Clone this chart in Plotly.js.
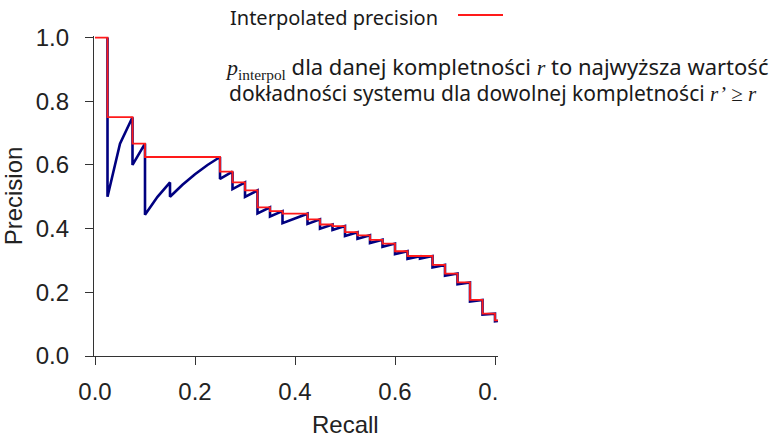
<!DOCTYPE html>
<html>
<head>
<meta charset="utf-8">
<script src="https://cdn.plot.ly/plotly-3.0.1.min.js"></script>
<style>html,body{margin:0;padding:0;background:#fff;}#chart{width:770px;height:440px;}</style>
</head>
<body>
<div id="chart"></div>
<script>
// Precision-recall curve (blue): vertices
const recall = [0.025,0.025,0.05,0.075,0.075,0.1,0.1,0.125,0.15,0.15,0.175,0.2,0.225,0.25,0.25,0.275,0.275,0.3,0.3,0.325,0.325,0.35,0.35,0.375,0.375,0.4,0.425,0.425,0.45,0.45,0.475,0.475,0.5,0.5,0.525,0.525,0.55,0.55,0.575,0.575,0.6,0.6,0.625,0.625,0.65,0.65,0.675,0.675,0.7,0.7,0.725,0.725,0.75,0.75,0.775,0.775,0.8,0.8,0.825];
const precision = [1.0,0.5,0.667,0.75,0.6,0.667,0.444,0.5,0.545,0.5,0.538,0.571,0.6,0.625,0.556,0.579,0.524,0.545,0.5,0.52,0.448,0.467,0.438,0.455,0.417,0.432,0.447,0.415,0.429,0.4,0.413,0.396,0.408,0.377,0.389,0.368,0.379,0.355,0.365,0.343,0.353,0.32,0.329,0.305,0.313,0.306,0.314,0.278,0.286,0.252,0.259,0.225,0.231,0.171,0.176,0.13,0.133,0.109,0.112];
// Interpolated precision (red step)
const interpRecall = [0,0.025,0.075,0.1,0.25,0.275,0.3,0.325,0.35,0.375,0.425,0.45,0.475,0.5,0.525,0.55,0.575,0.6,0.625,0.675,0.7,0.725,0.75,0.775,0.8,0.825];
const interpPrecision = [1.0,0.75,0.667,0.625,0.579,0.545,0.52,0.467,0.455,0.447,0.429,0.413,0.408,0.389,0.379,0.365,0.353,0.329,0.314,0.286,0.259,0.231,0.176,0.133,0.112,0.112];
const xTicks = [0,0.2,0.4,0.6,0.8];
const xTickText = ['0.0','0.2','0.4','0.6','0.\u2007'];
const yTicks = [0,0.2,0.4,0.6,0.8,1.0];
const yTickText = ['0.0','0.2','0.4','0.6','0.8','1.0'];

const L = 94, R = 498, T = 36, B = 356;
const px = v => (v - L) / (R - L);
const py = v => (B - v) / (B - T);
const serif = 'font-family:Liberation Serif';

const traces = [
  {x: recall, y: precision, mode: 'lines', line: {color: '#000080', width: 2.6}, hoverinfo: 'skip', showlegend: false},
  {x: interpRecall, y: interpPrecision, mode: 'lines', line: {color: '#ff1a1a', width: 1.8, shape: 'hv'}, hoverinfo: 'skip', showlegend: false}
];

const axisFont = {family: 'Liberation Sans, Arial, sans-serif', size: 24, color: '#222'};
const txtFont = {family: 'Noto Sans, sans-serif', size: 20, color: '#1a1a1a'};
const line1Font = {family: 'Noto Sans, sans-serif', size: 22, color: '#1a1a1a'};
const line2Font = {family: 'Noto Sans, sans-serif', size: 21, color: '#1a1a1a'};

const layout = {
  width: 770, height: 440,
  margin: {l: L, r: 770 - R, t: T, b: 440 - B},
  paper_bgcolor: '#fff', plot_bgcolor: '#fff',
  showlegend: false,
  xaxis: {range: [-0.002, 0.806], tickvals: xTicks, ticktext: xTickText, ticks: 'outside', ticklen: 8, tickcolor: '#333',
          showline: true, linecolor: '#333', linewidth: 1.2, showgrid: false, zeroline: false, tickfont: axisFont, ticklabelstandoff: 6},
  yaxis: {range: [0, 1.005], tickvals: yTicks, ticktext: yTickText, ticks: 'outside', ticklen: 8, tickcolor: '#333',
          showline: true, linecolor: '#333', linewidth: 1.2, showgrid: false, zeroline: false, tickfont: axisFont, ticklabelstandoff: 11,
          title: {text: 'Precision', font: axisFont, standoff: 10}},
  annotations: [
    {xref: 'paper', yref: 'paper', x: px(345), y: py(424), text: 'Recall', showarrow: false, font: axisFont, xanchor: 'center', yanchor: 'middle'},
    {xref: 'paper', yref: 'paper', x: px(228), y: py(17), text: 'Interpolated precision', showarrow: false, font: txtFont, xanchor: 'left', yanchor: 'middle'},
    {xref: 'paper', yref: 'paper', x: px(223), y: py(67), showarrow: false, font: line1Font, xanchor: 'left', yanchor: 'middle',
     text: '<span style="' + serif + '"><i>p</i><sub>interpol</sub></span> dla danej kompletności <span style="' + serif + '"><i>r</i></span> to najwyższa wartość'},
    {xref: 'paper', yref: 'paper', x: px(227), y: py(93), showarrow: false, font: line2Font, xanchor: 'left', yanchor: 'middle',
     text: 'dokładności systemu dla dowolnej kompletności <span style="' + serif + '"><i>r’</i> ≥ <i>r</i></span>'}
  ],
  shapes: [
    {type: 'line', xref: 'paper', yref: 'paper', x0: px(458), x1: px(503), y0: py(15), y1: py(15), line: {color: '#ff1a1a', width: 2}}
  ]
};

Plotly.newPlot('chart', traces, layout, {staticPlot: true, displayModeBar: false});
</script>
</body>
</html>
